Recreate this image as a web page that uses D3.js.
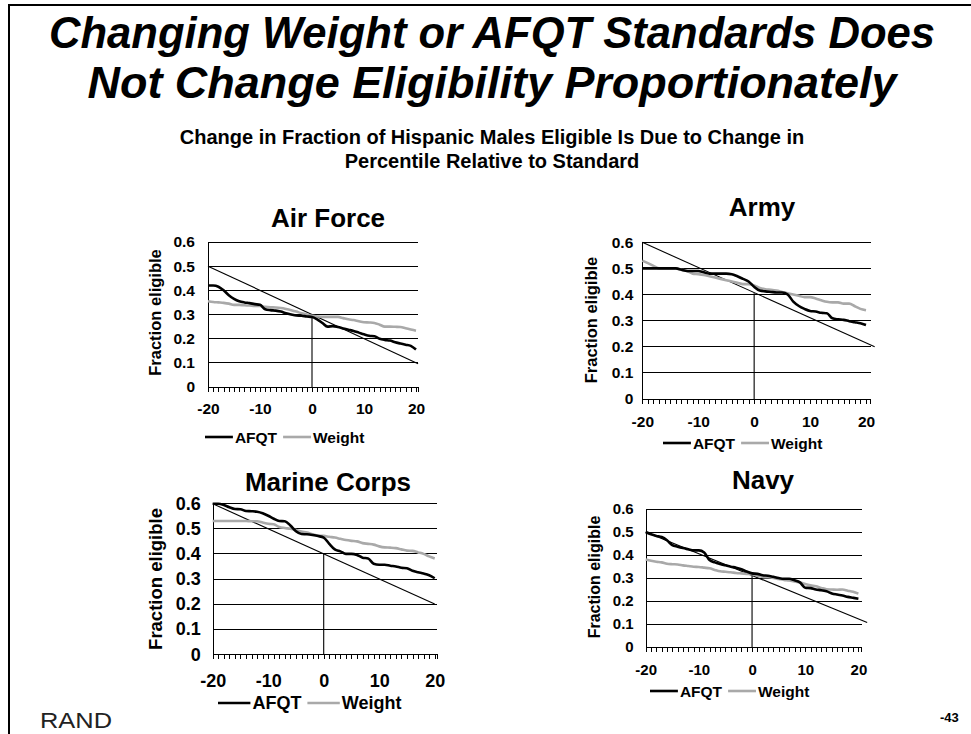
<!DOCTYPE html>
<html>
<head>
<meta charset="utf-8">
<script src="https://cdn.jsdelivr.net/npm/d3@7"></script>
<style>
  html, body { margin: 0; padding: 0; background: #fff; }
  svg { display: block; }
  text { font-family: "Liberation Sans", Arial, sans-serif; }
</style>
</head>
<body>
<svg id="chart" width="971" height="734"></svg>
<script>
// ---------------- DATA ----------------
const categories = [-20,-19,-18,-17,-16,-15,-14,-13,-12,-11,-10,-9,-8,-7,-6,-5,-4,-3,-2,-1,0,
                    1,2,3,4,5,6,7,8,9,10,11,12,13,14,15,16,17,18,19,20];
const xTickLabels = [-20, -10, 0, 10, 20];
const yTickValues = [0, 0.1, 0.2, 0.3, 0.4, 0.5, 0.6];
const seriesNames = ["AFQT", "Weight"];

const afAFQT = [0.42,0.42,0.415,0.40,0.38,0.365,0.355,0.35,0.347,0.343,0.34,0.322,0.318,0.316,0.312,0.305,0.30,0.296,0.295,0.292,0.29,
                0.28,0.265,0.25,0.252,0.248,0.242,0.237,0.232,0.225,0.218,0.212,0.21,0.20,0.195,0.192,0.185,0.18,0.175,0.17,0.155];
const afWeight = [0.355,0.352,0.35,0.348,0.345,0.34,0.34,0.338,0.337,0.335,0.335,0.332,0.33,0.329,0.327,0.323,0.318,0.312,0.305,0.30,0.295,
                  0.292,0.29,0.29,0.29,0.29,0.285,0.28,0.277,0.272,0.268,0.267,0.265,0.258,0.25,0.25,0.249,0.248,0.243,0.238,0.233];

const armyAFQT = [0.50,0.50,0.50,0.50,0.50,0.50,0.50,0.495,0.49,0.49,0.49,0.485,0.48,0.48,0.48,0.48,0.478,0.47,0.46,0.45,0.43,
                  0.415,0.412,0.41,0.408,0.408,0.40,0.373,0.356,0.345,0.337,0.335,0.33,0.328,0.309,0.305,0.303,0.298,0.294,0.29,0.283];
const armyWeight = [0.53,0.52,0.51,0.50,0.50,0.50,0.50,0.495,0.49,0.48,0.478,0.475,0.47,0.465,0.46,0.455,0.45,0.445,0.44,0.44,0.435,
                    0.425,0.42,0.418,0.415,0.41,0.405,0.40,0.395,0.39,0.39,0.385,0.378,0.372,0.37,0.37,0.365,0.365,0.355,0.345,0.34];

const marineAFQT = [0.60,0.60,0.595,0.586,0.579,0.578,0.571,0.57,0.568,0.562,0.552,0.54,0.531,0.53,0.513,0.49,0.479,0.478,0.475,0.471,0.465,
                    0.44,0.418,0.41,0.40,0.40,0.396,0.385,0.382,0.361,0.357,0.357,0.353,0.35,0.345,0.343,0.333,0.327,0.322,0.315,0.303];
const marineWeight = [0.531,0.531,0.531,0.531,0.531,0.531,0.531,0.53,0.53,0.525,0.52,0.518,0.507,0.503,0.50,0.495,0.489,0.485,0.478,0.473,0.472,
                      0.468,0.465,0.46,0.455,0.452,0.45,0.443,0.44,0.437,0.43,0.426,0.425,0.423,0.418,0.413,0.412,0.406,0.40,0.39,0.382];

const navyAFQT = [0.50,0.49,0.483,0.478,0.464,0.443,0.436,0.43,0.425,0.42,0.42,0.411,0.378,0.368,0.361,0.355,0.349,0.345,0.338,0.328,0.32,
                  0.318,0.312,0.31,0.305,0.30,0.297,0.297,0.29,0.281,0.258,0.256,0.25,0.247,0.242,0.233,0.228,0.224,0.218,0.214,0.21];
const navyWeight = [0.38,0.375,0.371,0.368,0.362,0.36,0.359,0.355,0.352,0.349,0.348,0.345,0.342,0.335,0.329,0.327,0.325,0.322,0.32,0.318,0.316,
                    0.31,0.305,0.303,0.30,0.296,0.292,0.289,0.285,0.28,0.274,0.268,0.264,0.257,0.251,0.25,0.249,0.25,0.245,0.24,0.232];

// Reference diagonal (proportional line) end points [x, y], and top of the standard marker at x = 0
const afRef = [[-20, 0.5], [20.4, 0.096]];
const armyRef = [[-20, 0.6], [21.55, 0.2]];
const marineRef = [[-20, 0.6], [20, 0.2]];
const navyRef = [[-20, 0.5], [21.65, 0.107]];
const markerTops = { af: 0.295, army: 0.405, marine: 0.4, navy: 0.31 };

const panelTitles = ["Air Force", "Army", "Marine Corps", "Navy"];

// ---------------- LAYOUT ----------------
const panels = [
  { key: "af", title: panelTitles[0], afqt: afAFQT, weight: afWeight, ref: afRef,
    left: 208, x20: 416, right: 418, top: 242, bottom: 387,
    titleX: 328, titleY: 227, titleSize: 26,
    tickSize: 15.5, yTickGap: 13, xTickY: 414,
    ylabX: 155, ylabY: 312.5, ylabSize: 16.5,
    legX: 205, legY: 437, legSize: 15.5 },
  { key: "army", title: panelTitles[1], afqt: armyAFQT, weight: armyWeight, ref: armyRef,
    left: 642.3, x20: 866, right: 870.7, top: 242.3, bottom: 399,
    titleX: 762, titleY: 216, titleSize: 26,
    tickSize: 15.5, yTickGap: 9, xTickY: 427,
    ylabX: 591, ylabY: 320, ylabSize: 16.5,
    legX: 663, legY: 443, legSize: 15.5 },
  { key: "marine", title: panelTitles[2], afqt: marineAFQT, weight: marineWeight, ref: marineRef,
    left: 212.7, x20: 434.7, right: 437.3, top: 503.7, bottom: 654.3,
    titleX: 328, titleY: 491, titleSize: 26,
    tickSize: 18, yTickGap: 12, xTickY: 687,
    ylabX: 155, ylabY: 579, ylabSize: 18.5,
    legX: 218, legY: 703, legSize: 18 },
  { key: "navy", title: panelTitles[3], afqt: navyAFQT, weight: navyWeight, ref: navyRef,
    left: 645.7, x20: 858.4, right: 861.7, top: 509, bottom: 647,
    titleX: 763, titleY: 489, titleSize: 26,
    tickSize: 15, yTickGap: 12, xTickY: 675,
    ylabX: 594, ylabY: 577, ylabSize: 16,
    legX: 650, legY: 691, legSize: 15.5 }
];

const GRAY = "#a9a9a9";
const svg = d3.select("#chart");
svg.append("rect").attr("width", 971).attr("height", 734).attr("fill", "#fff");

// frame
svg.append("line").attr("x1", 9).attr("x2", 971).attr("y1", 5).attr("y2", 5)
  .attr("stroke", "#000").attr("stroke-width", 2);
svg.append("line").attr("x1", 9).attr("x2", 9).attr("y1", 4).attr("y2", 734)
  .attr("stroke", "#000").attr("stroke-width", 2);

// titles
const titleLines = ["Changing Weight or AFQT Standards Does", "Not Change Eligibility Proportionately"];
const titleWidths = [886, 809];
const subtitleLines = ["Change in Fraction of Hispanic Males Eligible Is Due to Change in", "Percentile Relative to Standard"];
titleLines.forEach((t, i) => {
  svg.append("text").attr("x", 492).attr("y", 48 + i * 50)
    .attr("text-anchor", "middle").attr("font-size", 45).attr("font-weight", "bold")
    .attr("font-style", "italic").attr("fill", "#000")
    .attr("textLength", titleWidths[i]).attr("lengthAdjust", "spacingAndGlyphs").text(t);
});
subtitleLines.forEach((t, i) => {
  svg.append("text").attr("x", 492).attr("y", 144 + i * 24)
    .attr("text-anchor", "middle").attr("font-size", 20).attr("font-weight", "bold")
    .attr("fill", "#000").text(t);
});

// panels
panels.forEach(p => {
  const g = svg.append("g");
  const x = d3.scaleLinear().domain([categories[0], categories[categories.length - 1]]).range([p.left, p.x20]);
  const y = d3.scaleLinear().domain([0, 0.6]).range([p.bottom, p.top]);

  // title
  g.append("text").attr("x", p.titleX).attr("y", p.titleY).attr("text-anchor", "middle")
    .attr("font-size", p.titleSize).attr("font-weight", "bold").text(p.title);

  // gridlines
  g.selectAll(".grid").data(yTickValues.slice(1)).enter().append("line")
    .attr("x1", p.left).attr("x2", p.right)
    .attr("y1", d => y(d)).attr("y2", d => y(d))
    .attr("stroke", "#000").attr("stroke-width", 1).attr("shape-rendering", "crispEdges");

  // y axis (line + labels)
  const yAxis = d3.axisLeft(y).tickValues(yTickValues).tickSize(0).tickPadding(p.yTickGap)
    .tickFormat(d => d === 0 ? "0" : d3.format(".1f")(d));
  const ya = g.append("g").attr("transform", `translate(${p.left},0)`).call(yAxis);
  ya.select(".domain").attr("stroke", "#000").attr("stroke-width", 1).attr("shape-rendering", "crispEdges");
  ya.selectAll("text").attr("font-size", p.tickSize).attr("font-weight", "bold")
    .attr("font-family", "'Liberation Sans', Arial, sans-serif").attr("fill", "#000");

  // x axis: tick marks at each category
  const xAxis = d3.axisBottom(x).tickValues(categories).tickSize(5).tickSizeOuter(0)
    .tickFormat(d => xTickLabels.includes(d) ? String(d) : "");
  const xa = g.append("g").attr("transform", `translate(0,${p.bottom})`).call(xAxis);
  xa.select(".domain").attr("d", `M${p.left},0.5H${p.right}`).attr("stroke", "#000").attr("shape-rendering", "crispEdges");
  xa.selectAll(".tick line").attr("stroke", "#000").attr("shape-rendering", "crispEdges");
  xa.selectAll("text").attr("font-size", p.tickSize).attr("font-weight", "bold")
    .attr("font-family", "'Liberation Sans', Arial, sans-serif").attr("fill", "#000")
    .attr("y", null).attr("dy", null).attr("transform", `translate(0,${p.xTickY - p.bottom})`);
  // right end tick
  g.append("line").attr("x1", p.right).attr("x2", p.right).attr("y1", p.bottom).attr("y2", p.bottom + 5)
    .attr("stroke", "#000").attr("shape-rendering", "crispEdges");

  // y label
  g.append("text").attr("transform", `translate(${p.ylabX},${p.ylabY}) rotate(-90)`)
    .attr("text-anchor", "middle").attr("dominant-baseline", "central")
    .attr("font-size", p.ylabSize).attr("font-weight", "bold").text("Fraction eligible");

  // reference diagonal
  const line = d3.line().x(d => x(d[0])).y(d => y(d[1]));
  g.append("path").attr("d", line(p.ref)).attr("fill", "none").attr("stroke", "#000").attr("stroke-width", 1.1);
  // standard marker at 0
  g.append("line").attr("x1", x(0)).attr("x2", x(0)).attr("y1", y(0)).attr("y2", y(markerTops[p.key]))
    .attr("stroke", "#000").attr("stroke-width", 1.1);

  // series
  const sLine = d3.line().x((d, i) => x(categories[i])).y(d => y(d)).curve(d3.curveMonotoneX);
  g.append("path").attr("d", sLine(p.weight)).attr("fill", "none").attr("stroke", GRAY)
    .attr("stroke-width", 2.6).attr("stroke-linejoin", "round");
  g.append("path").attr("d", sLine(p.afqt)).attr("fill", "none").attr("stroke", "#000")
    .attr("stroke-width", 2.6).attr("stroke-linejoin", "round");

  // legend
  const lg = g.append("g");
  let cx = p.legX;
  const lineLen = p.legSize * 1.8;
  seriesNames.forEach((name, i) => {
    lg.append("line").attr("x1", cx).attr("x2", cx + lineLen).attr("y1", p.legY).attr("y2", p.legY)
      .attr("stroke", i === 0 ? "#000" : GRAY).attr("stroke-width", 2.6);
    cx += lineLen + 2;
    const t = lg.append("text").attr("x", cx).attr("y", p.legY).attr("dy", "0.36em")
      .attr("font-size", p.legSize).attr("font-weight", "bold").text(name);
    cx += t.node().getComputedTextLength() + 6;
  });
});

// footer
svg.append("text").attr("x", 40).attr("y", 728).attr("font-family", "Lato, 'DejaVu Sans', sans-serif")
  .attr("font-size", 22).attr("font-weight", "normal").attr("fill", "#222")
  .attr("textLength", 72).attr("lengthAdjust", "spacingAndGlyphs").text("RAND");
svg.append("text").attr("x", 940).attr("y", 722).attr("font-size", 13).attr("font-weight", "bold").text("-43");
</script>
</body>
</html>
